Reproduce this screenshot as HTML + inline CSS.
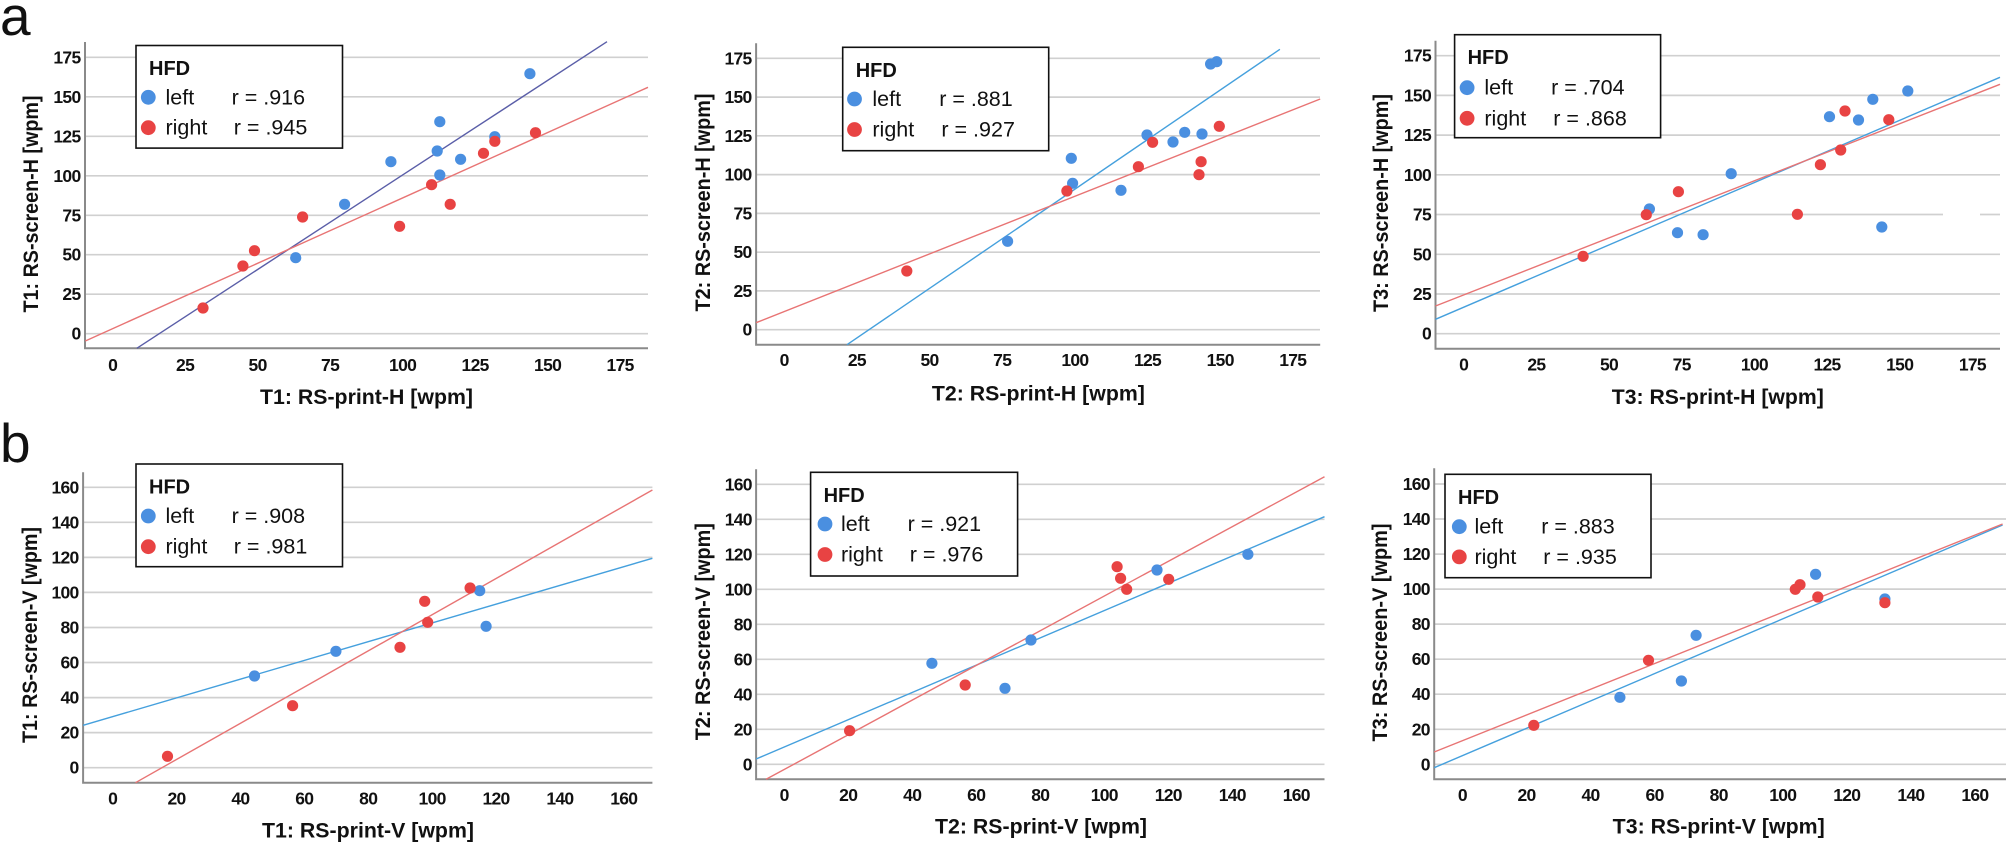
<!DOCTYPE html>
<html><head><meta charset="utf-8"><style>
html,body{margin:0;padding:0;background:#fff;}
svg{display:block;}
text{font-family:"Liberation Sans",Arial,sans-serif;fill:#111;}
.t{font-size:17.5px;font-weight:bold;letter-spacing:-0.7px;}
.ty{text-anchor:end;}
.tx{text-anchor:middle;}
.ti{font-size:21px;font-weight:bold;text-anchor:middle;}
.lg{font-size:21.5px;}
.hf{font-size:20px;font-weight:bold;}
.g{stroke:#d0d0d0;stroke-width:1.7;}
.ax{stroke:#8a8a8a;stroke-width:2;fill:none;}
.box{fill:#fff;stroke:#111;stroke-width:1.6;}
.b{fill:#4a8fe0;}
.r{fill:#e84343;}
.lb{stroke:#45a0dd;stroke-width:1.4;}
.ld{stroke:#5a5ea8;stroke-width:1.4;}
.lr{stroke:#e87474;stroke-width:1.4;}
</style></head><body>
<svg width="2006" height="844" viewBox="0 0 2006 844" xmlns="http://www.w3.org/2000/svg">
<text x="0" y="35" style="font-size:55px;">a</text>
<text x="0" y="462" style="font-size:55px;">b</text>

<!-- ===== Panel a1 ===== -->
<g>
<line class="g" x1="85" x2="648" y1="333.7" y2="333.7"/>
<line class="g" x1="85" x2="648" y1="294.2" y2="294.2"/>
<line class="g" x1="85" x2="648" y1="254.7" y2="254.7"/>
<line class="g" x1="85" x2="648" y1="215.3" y2="215.3"/>
<line class="g" x1="85" x2="648" y1="175.8" y2="175.8"/>
<line class="g" x1="85" x2="648" y1="136.3" y2="136.3"/>
<line class="g" x1="85" x2="648" y1="96.8" y2="96.8"/>
<line class="g" x1="85" x2="648" y1="57.3" y2="57.3"/>
<polyline class="ax" points="85,42 85,348.3 648,348.3"/>
<text class="t ty" x="80.5" y="339.7">0</text>
<text class="t ty" x="80.5" y="300.2">25</text>
<text class="t ty" x="80.5" y="260.7">50</text>
<text class="t ty" x="80.5" y="221.3">75</text>
<text class="t ty" x="80.5" y="181.8">100</text>
<text class="t ty" x="80.5" y="142.3">125</text>
<text class="t ty" x="80.5" y="102.8">150</text>
<text class="t ty" x="80.5" y="63.3">175</text>
<text class="t tx" x="112.6" y="371">0</text>
<text class="t tx" x="185.1" y="371">25</text>
<text class="t tx" x="257.6" y="371">50</text>
<text class="t tx" x="330.1" y="371">75</text>
<text class="t tx" x="402.6" y="371">100</text>
<text class="t tx" x="475.1" y="371">125</text>
<text class="t tx" x="547.6" y="371">150</text>
<text class="t tx" x="620.1" y="371">175</text>
<text class="ti" x="366.5" y="404" textLength="213" lengthAdjust="spacingAndGlyphs">T1: RS-print-H [wpm]</text>
<text class="ti" transform="translate(38,204) rotate(-90)" textLength="217" lengthAdjust="spacingAndGlyphs">T1: RS-screen-H [wpm]</text>
<line class="ld" x1="136.8" y1="348.3" x2="607" y2="41.7"/>
<line class="lr" x1="85.3" y1="341" x2="648" y2="87.3"/>
<circle class="b" cx="529.9" cy="73.7" r="5.6"/>
<circle class="b" cx="439.8" cy="121.7" r="5.6"/>
<circle class="b" cx="494.8" cy="136.7" r="5.6"/>
<circle class="b" cx="437.2" cy="151" r="5.6"/>
<circle class="b" cx="390.9" cy="161.7" r="5.6"/>
<circle class="b" cx="460.6" cy="159.3" r="5.6"/>
<circle class="b" cx="439.8" cy="175" r="5.6"/>
<circle class="b" cx="344.6" cy="204.3" r="5.6"/>
<circle class="b" cx="295.7" cy="257.7" r="5.6"/>
<circle class="r" cx="535.5" cy="132.7" r="5.6"/>
<circle class="r" cx="494.8" cy="141.3" r="5.6"/>
<circle class="r" cx="483.5" cy="153.3" r="5.6"/>
<circle class="r" cx="431.6" cy="184.7" r="5.6"/>
<circle class="r" cx="450.2" cy="204.3" r="5.6"/>
<circle class="r" cx="399.6" cy="226.3" r="5.6"/>
<circle class="r" cx="302.6" cy="217" r="5.6"/>
<circle class="r" cx="254.5" cy="250.7" r="5.6"/>
<circle class="r" cx="242.9" cy="266" r="5.6"/>
<circle class="r" cx="203" cy="308" r="5.6"/>
<rect class="box" x="136" y="45.5" width="206.5" height="102.6"/>
<text class="hf" x="149" y="75">HFD</text>
<circle class="b" cx="148.3" cy="97.3" r="7.4"/>
<text class="lg" x="165.5" y="104.3">left</text>
<text class="lg" x="231.6" y="104.3">r = .916</text>
<circle class="r" cx="148.3" cy="127.7" r="7.4"/>
<text class="lg" x="165.5" y="134.5">right</text>
<text class="lg" x="233.8" y="134.5">r = .945</text>
</g>

<!-- ===== Panel a2 ===== -->
<g>
<line class="g" x1="756" x2="1320" y1="329.7" y2="329.7"/>
<line class="g" x1="756" x2="1320" y1="290.9" y2="290.9"/>
<line class="g" x1="756" x2="1320" y1="252.2" y2="252.2"/>
<line class="g" x1="756" x2="1320" y1="213.4" y2="213.4"/>
<line class="g" x1="756" x2="1320" y1="174.6" y2="174.6"/>
<line class="g" x1="756" x2="1320" y1="135.8" y2="135.8"/>
<line class="g" x1="756" x2="1320" y1="97.1" y2="97.1"/>
<line class="g" x1="756" x2="1320" y1="58.3" y2="58.3"/>
<polyline class="ax" points="756.1,43.3 756.1,344.7 1320.2,344.7"/>
<text class="t ty" x="751.6" y="335.7">0</text>
<text class="t ty" x="751.6" y="296.9">25</text>
<text class="t ty" x="751.6" y="258.2">50</text>
<text class="t ty" x="751.6" y="219.4">75</text>
<text class="t ty" x="751.6" y="180.6">100</text>
<text class="t ty" x="751.6" y="141.8">125</text>
<text class="t ty" x="751.6" y="103.1">150</text>
<text class="t ty" x="751.6" y="64.3">175</text>
<text class="t tx" x="784.2" y="366">0</text>
<text class="t tx" x="856.9" y="366">25</text>
<text class="t tx" x="929.5" y="366">50</text>
<text class="t tx" x="1002.2" y="366">75</text>
<text class="t tx" x="1074.9" y="366">100</text>
<text class="t tx" x="1147.5" y="366">125</text>
<text class="t tx" x="1220.2" y="366">150</text>
<text class="t tx" x="1292.8" y="366">175</text>
<text class="ti" x="1038.4" y="400.5" textLength="213" lengthAdjust="spacingAndGlyphs">T2: RS-print-H [wpm]</text>
<text class="ti" transform="translate(710,202.5) rotate(-90)" textLength="218" lengthAdjust="spacingAndGlyphs">T2: RS-screen-H [wpm]</text>
<line class="lb" x1="847" y1="344.7" x2="1279.9" y2="49.3"/>
<line class="lr" x1="756.1" y1="322.7" x2="1320.2" y2="99"/>
<circle class="b" cx="1210.6" cy="64" r="5.6"/>
<circle class="b" cx="1216.7" cy="61.7" r="5.6"/>
<circle class="b" cx="1147" cy="135" r="5.6"/>
<circle class="b" cx="1173" cy="142" r="5.6"/>
<circle class="b" cx="1184.7" cy="132.3" r="5.6"/>
<circle class="b" cx="1202" cy="134" r="5.6"/>
<circle class="b" cx="1071.3" cy="158.3" r="5.6"/>
<circle class="b" cx="1072.6" cy="183.3" r="5.6"/>
<circle class="b" cx="1121" cy="190.3" r="5.6"/>
<circle class="b" cx="1007.6" cy="241.3" r="5.6"/>
<circle class="r" cx="1219.3" cy="126.3" r="5.6"/>
<circle class="r" cx="1152.6" cy="142.3" r="5.6"/>
<circle class="r" cx="1138.4" cy="166.7" r="5.6"/>
<circle class="r" cx="1201.1" cy="161.7" r="5.6"/>
<circle class="r" cx="1199" cy="174.7" r="5.6"/>
<circle class="r" cx="1066.9" cy="191" r="5.6"/>
<circle class="r" cx="906.8" cy="271" r="5.6"/>
<rect class="box" x="842.7" y="47.3" width="206" height="103.4"/>
<text class="hf" x="855.7" y="76.8">HFD</text>
<circle class="b" cx="854.5" cy="99" r="7.4"/>
<text class="lg" x="872.4" y="106">left</text>
<text class="lg" x="939.2" y="106">r = .881</text>
<circle class="r" cx="854.5" cy="129.5" r="7.4"/>
<text class="lg" x="872.4" y="136.5">right</text>
<text class="lg" x="941.4" y="136.5">r = .927</text>
</g>

<!-- ===== Panel a3 ===== -->
<g>
<line class="g" x1="1435.5" x2="2000" y1="333.7" y2="333.7"/>
<line class="g" x1="1435.5" x2="2000" y1="294" y2="294"/>
<line class="g" x1="1435.5" x2="2000" y1="254.3" y2="254.3"/>
<line class="g" x1="1435.5" x2="1943" y1="214.5" y2="214.5"/>
<line class="g" x1="1980" x2="2000" y1="214.5" y2="214.5"/>
<line class="g" x1="1435.5" x2="2000" y1="174.8" y2="174.8"/>
<line class="g" x1="1435.5" x2="2000" y1="135.1" y2="135.1"/>
<line class="g" x1="1435.5" x2="2000" y1="95.4" y2="95.4"/>
<line class="g" x1="1435.5" x2="2000" y1="55.7" y2="55.7"/>
<polyline class="ax" points="1435.5,40.7 1435.5,348.7 2000,348.7"/>
<text class="t ty" x="1431" y="339.7">0</text>
<text class="t ty" x="1431" y="300">25</text>
<text class="t ty" x="1431" y="260.3">50</text>
<text class="t ty" x="1431" y="220.5">75</text>
<text class="t ty" x="1431" y="180.8">100</text>
<text class="t ty" x="1431" y="141.1">125</text>
<text class="t ty" x="1431" y="101.4">150</text>
<text class="t ty" x="1431" y="61.7">175</text>
<text class="t tx" x="1463.7" y="370.3">0</text>
<text class="t tx" x="1536.4" y="370.3">25</text>
<text class="t tx" x="1609" y="370.3">50</text>
<text class="t tx" x="1681.7" y="370.3">75</text>
<text class="t tx" x="1754.4" y="370.3">100</text>
<text class="t tx" x="1827" y="370.3">125</text>
<text class="t tx" x="1899.7" y="370.3">150</text>
<text class="t tx" x="1972.4" y="370.3">175</text>
<text class="ti" x="1717.8" y="404" textLength="212" lengthAdjust="spacingAndGlyphs">T3: RS-print-H [wpm]</text>
<text class="ti" transform="translate(1388,203) rotate(-90)" textLength="218" lengthAdjust="spacingAndGlyphs">T3: RS-screen-H [wpm]</text>
<line class="lb" x1="1435.5" y1="319.3" x2="2000" y2="77.3"/>
<line class="lr" x1="1435.5" y1="306" x2="2000" y2="84.3"/>
<circle class="b" cx="1907.8" cy="91" r="5.6"/>
<circle class="b" cx="1872.8" cy="99.3" r="5.6"/>
<circle class="b" cx="1829.5" cy="116.7" r="5.6"/>
<circle class="b" cx="1858.5" cy="120" r="5.6"/>
<circle class="b" cx="1731.2" cy="173.7" r="5.6"/>
<circle class="b" cx="1649.4" cy="209" r="5.6"/>
<circle class="b" cx="1677.5" cy="232.7" r="5.6"/>
<circle class="b" cx="1703.1" cy="234.7" r="5.6"/>
<circle class="b" cx="1881.8" cy="227" r="5.6"/>
<circle class="r" cx="1845" cy="111" r="5.6"/>
<circle class="r" cx="1888.8" cy="119.7" r="5.6"/>
<circle class="r" cx="1840.7" cy="150" r="5.6"/>
<circle class="r" cx="1820.4" cy="164.7" r="5.6"/>
<circle class="r" cx="1678.4" cy="191.7" r="5.6"/>
<circle class="r" cx="1646.3" cy="214.7" r="5.6"/>
<circle class="r" cx="1797.4" cy="214.3" r="5.6"/>
<circle class="r" cx="1583.1" cy="256.3" r="5.6"/>
<rect class="box" x="1454.6" y="34.7" width="206" height="103"/>
<text class="hf" x="1467.6" y="64.2">HFD</text>
<circle class="b" cx="1467.1" cy="87.7" r="7.4"/>
<text class="lg" x="1484.4" y="94.7">left</text>
<text class="lg" x="1551.1" y="94.7">r = .704</text>
<circle class="r" cx="1467.1" cy="118.3" r="7.4"/>
<text class="lg" x="1484.4" y="125.3">right</text>
<text class="lg" x="1553.3" y="125.3">r = .868</text>
</g>

<!-- ===== Panel b1 ===== -->
<g>
<line class="g" x1="83" x2="652.4" y1="767.7" y2="767.7"/>
<line class="g" x1="83" x2="652.4" y1="732.6" y2="732.6"/>
<line class="g" x1="83" x2="652.4" y1="697.6" y2="697.6"/>
<line class="g" x1="83" x2="652.4" y1="662.5" y2="662.5"/>
<line class="g" x1="83" x2="652.4" y1="627.5" y2="627.5"/>
<line class="g" x1="83" x2="652.4" y1="592.4" y2="592.4"/>
<line class="g" x1="83" x2="652.4" y1="557.4" y2="557.4"/>
<line class="g" x1="83" x2="652.4" y1="522.3" y2="522.3"/>
<line class="g" x1="83" x2="652.4" y1="487.3" y2="487.3"/>
<polyline class="ax" points="83.1,472.3 83.1,782.7 652.4,782.7"/>
<text class="t ty" x="78.6" y="773.7">0</text>
<text class="t ty" x="78.6" y="738.6">20</text>
<text class="t ty" x="78.6" y="703.6">40</text>
<text class="t ty" x="78.6" y="668.5">60</text>
<text class="t ty" x="78.6" y="633.5">80</text>
<text class="t ty" x="78.6" y="598.4">100</text>
<text class="t ty" x="78.6" y="563.4">120</text>
<text class="t ty" x="78.6" y="528.3">140</text>
<text class="t ty" x="78.6" y="493.3">160</text>
<text class="t tx" x="112.6" y="804.3">0</text>
<text class="t tx" x="176.5" y="804.3">20</text>
<text class="t tx" x="240.4" y="804.3">40</text>
<text class="t tx" x="304.3" y="804.3">60</text>
<text class="t tx" x="368.2" y="804.3">80</text>
<text class="t tx" x="432.1" y="804.3">100</text>
<text class="t tx" x="496" y="804.3">120</text>
<text class="t tx" x="559.9" y="804.3">140</text>
<text class="t tx" x="623.8" y="804.3">160</text>
<text class="ti" x="368" y="837.7" textLength="212" lengthAdjust="spacingAndGlyphs">T1: RS-print-V [wpm]</text>
<text class="ti" transform="translate(37,635) rotate(-90)" textLength="216" lengthAdjust="spacingAndGlyphs">T1: RS-screen-V [wpm]</text>
<line class="lb" x1="83.1" y1="725.3" x2="652.4" y2="558.3"/>
<line class="lr" x1="135.5" y1="782.7" x2="652.4" y2="490"/>
<circle class="b" cx="479.7" cy="590.7" r="5.6"/>
<circle class="b" cx="486.1" cy="626.3" r="5.6"/>
<circle class="b" cx="335.9" cy="651.3" r="5.6"/>
<circle class="b" cx="254.5" cy="676" r="5.6"/>
<circle class="r" cx="470.1" cy="588" r="5.6"/>
<circle class="r" cx="424.7" cy="601.3" r="5.6"/>
<circle class="r" cx="427.7" cy="622.3" r="5.6"/>
<circle class="r" cx="400" cy="647.3" r="5.6"/>
<circle class="r" cx="292.6" cy="705.7" r="5.6"/>
<circle class="r" cx="167.5" cy="756.3" r="5.6"/>
<rect class="box" x="136" y="464" width="206.5" height="102.7"/>
<text class="hf" x="149" y="493.5">HFD</text>
<circle class="b" cx="148.3" cy="516" r="7.4"/>
<text class="lg" x="165.5" y="523">left</text>
<text class="lg" x="231.6" y="523">r = .908</text>
<circle class="r" cx="148.3" cy="546.7" r="7.4"/>
<text class="lg" x="165.5" y="553.5">right</text>
<text class="lg" x="233.8" y="553.5">r = .981</text>
</g>

<!-- ===== Panel b2 ===== -->
<g>
<line class="g" x1="756" x2="1324.5" y1="764.3" y2="764.3"/>
<line class="g" x1="756" x2="1324.5" y1="729.3" y2="729.3"/>
<line class="g" x1="756" x2="1324.5" y1="694.3" y2="694.3"/>
<line class="g" x1="756" x2="1324.5" y1="659.3" y2="659.3"/>
<line class="g" x1="756" x2="1324.5" y1="624.3" y2="624.3"/>
<line class="g" x1="756" x2="1324.5" y1="589.3" y2="589.3"/>
<line class="g" x1="756" x2="1324.5" y1="554.3" y2="554.3"/>
<line class="g" x1="756" x2="1324.5" y1="519.3" y2="519.3"/>
<line class="g" x1="756" x2="1324.5" y1="484.3" y2="484.3"/>
<polyline class="ax" points="756.1,469.3 756.1,779.3 1324.5,779.3"/>
<text class="t ty" x="751.8" y="770.3">0</text>
<text class="t ty" x="751.8" y="735.3">20</text>
<text class="t ty" x="751.8" y="700.3">40</text>
<text class="t ty" x="751.8" y="665.3">60</text>
<text class="t ty" x="751.8" y="630.3">80</text>
<text class="t ty" x="751.8" y="595.3">100</text>
<text class="t ty" x="751.8" y="560.3">120</text>
<text class="t ty" x="751.8" y="525.3">140</text>
<text class="t ty" x="751.8" y="490.3">160</text>
<text class="t tx" x="784.2" y="801">0</text>
<text class="t tx" x="848.2" y="801">20</text>
<text class="t tx" x="912.2" y="801">40</text>
<text class="t tx" x="976.2" y="801">60</text>
<text class="t tx" x="1040.3" y="801">80</text>
<text class="t tx" x="1104.3" y="801">100</text>
<text class="t tx" x="1168.3" y="801">120</text>
<text class="t tx" x="1232.3" y="801">140</text>
<text class="t tx" x="1296.3" y="801">160</text>
<text class="ti" x="1041" y="833.7" textLength="212" lengthAdjust="spacingAndGlyphs">T2: RS-print-V [wpm]</text>
<text class="ti" transform="translate(710,631.7) rotate(-90)" textLength="217" lengthAdjust="spacingAndGlyphs">T2: RS-screen-V [wpm]</text>
<line class="lb" x1="756.1" y1="759" x2="1324.5" y2="516.7"/>
<line class="lr" x1="766.1" y1="779.3" x2="1324.5" y2="476.7"/>
<circle class="b" cx="1247.9" cy="554.3" r="5.6"/>
<circle class="b" cx="1157" cy="570" r="5.6"/>
<circle class="b" cx="1031" cy="640" r="5.6"/>
<circle class="b" cx="931.9" cy="663.3" r="5.6"/>
<circle class="b" cx="1005" cy="688.3" r="5.6"/>
<circle class="r" cx="1117.1" cy="566.7" r="5.6"/>
<circle class="r" cx="1120.6" cy="578.3" r="5.6"/>
<circle class="r" cx="1126.7" cy="589.3" r="5.6"/>
<circle class="r" cx="1168.7" cy="579.3" r="5.6"/>
<circle class="r" cx="965.2" cy="685" r="5.6"/>
<circle class="r" cx="849.6" cy="730.7" r="5.6"/>
<rect class="box" x="810.6" y="472.3" width="207" height="103.7"/>
<text class="hf" x="823.6" y="501.8">HFD</text>
<circle class="b" cx="825" cy="524" r="7.4"/>
<text class="lg" x="841" y="531">left</text>
<text class="lg" x="907.6" y="531">r = .921</text>
<circle class="r" cx="825" cy="554.5" r="7.4"/>
<text class="lg" x="841" y="561.5">right</text>
<text class="lg" x="909.8" y="561.5">r = .976</text>
</g>

<!-- ===== Panel b3 ===== -->
<g>
<line class="g" x1="1434" x2="2006" y1="764.3" y2="764.3"/>
<line class="g" x1="1434" x2="2006" y1="729.3" y2="729.3"/>
<line class="g" x1="1434" x2="2006" y1="694.2" y2="694.2"/>
<line class="g" x1="1434" x2="2006" y1="659.2" y2="659.2"/>
<line class="g" x1="1434" x2="2006" y1="624.1" y2="624.1"/>
<line class="g" x1="1434" x2="2006" y1="589.1" y2="589.1"/>
<line class="g" x1="1434" x2="2006" y1="554.1" y2="554.1"/>
<line class="g" x1="1434" x2="2006" y1="519" y2="519"/>
<line class="g" x1="1434" x2="2006" y1="484" y2="484"/>
<polyline class="ax" points="1434.2,468.3 1434.2,779.3 2006,779.3"/>
<text class="t ty" x="1429.8" y="770.3">0</text>
<text class="t ty" x="1429.8" y="735.3">20</text>
<text class="t ty" x="1429.8" y="700.2">40</text>
<text class="t ty" x="1429.8" y="665.2">60</text>
<text class="t ty" x="1429.8" y="630.1">80</text>
<text class="t ty" x="1429.8" y="595.1">100</text>
<text class="t ty" x="1429.8" y="560.1">120</text>
<text class="t ty" x="1429.8" y="525">140</text>
<text class="t ty" x="1429.8" y="490">160</text>
<text class="t tx" x="1462.4" y="801">0</text>
<text class="t tx" x="1526.5" y="801">20</text>
<text class="t tx" x="1590.5" y="801">40</text>
<text class="t tx" x="1654.6" y="801">60</text>
<text class="t tx" x="1718.7" y="801">80</text>
<text class="t tx" x="1782.8" y="801">100</text>
<text class="t tx" x="1846.8" y="801">120</text>
<text class="t tx" x="1910.9" y="801">140</text>
<text class="t tx" x="1974.9" y="801">160</text>
<text class="ti" x="1718.7" y="833.7" textLength="212" lengthAdjust="spacingAndGlyphs">T3: RS-print-V [wpm]</text>
<text class="ti" transform="translate(1387,632.5) rotate(-90)" textLength="218" lengthAdjust="spacingAndGlyphs">T3: RS-screen-V [wpm]</text>
<line class="lb" x1="1434.2" y1="767.7" x2="2002.6" y2="525"/>
<line class="lr" x1="1434.2" y1="752" x2="2002.6" y2="524"/>
<circle class="b" cx="1815.6" cy="574.3" r="5.6"/>
<circle class="b" cx="1884.9" cy="599" r="5.6"/>
<circle class="b" cx="1696.1" cy="635.3" r="5.6"/>
<circle class="b" cx="1681.4" cy="681" r="5.6"/>
<circle class="b" cx="1619.9" cy="697.3" r="5.6"/>
<circle class="r" cx="1795.3" cy="589.3" r="5.6"/>
<circle class="r" cx="1800" cy="584.7" r="5.6"/>
<circle class="r" cx="1817.8" cy="597" r="5.6"/>
<circle class="r" cx="1884.9" cy="602.7" r="5.6"/>
<circle class="r" cx="1648.5" cy="660.3" r="5.6"/>
<circle class="r" cx="1533.8" cy="725.3" r="5.6"/>
<rect class="box" x="1445" y="474.3" width="206" height="103.4"/>
<text class="hf" x="1458" y="504">HFD</text>
<circle class="b" cx="1459.3" cy="526.7" r="7.4"/>
<text class="lg" x="1474.5" y="533.7">left</text>
<text class="lg" x="1541.2" y="533.7">r = .883</text>
<circle class="r" cx="1459.3" cy="556.9" r="7.4"/>
<text class="lg" x="1474.5" y="563.9">right</text>
<text class="lg" x="1543.3" y="563.9">r = .935</text>
</g>
</svg>
</body></html>
